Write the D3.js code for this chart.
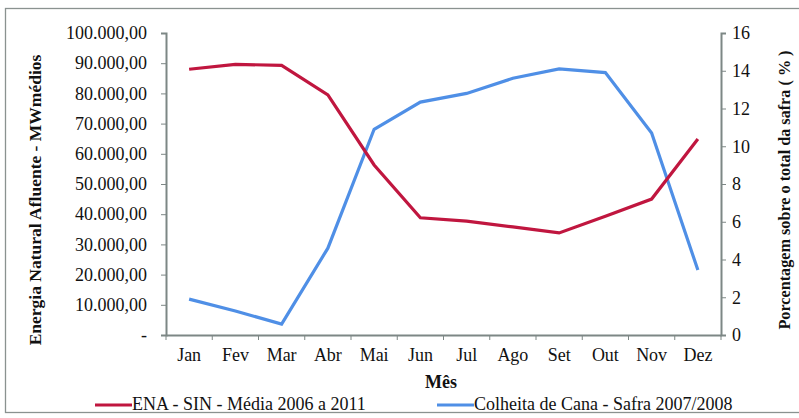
<!DOCTYPE html>
<html>
<head>
<meta charset="utf-8">
<script src="https://cdn.jsdelivr.net/npm/d3@7"></script>
<style>
  body { margin: 0; background: #fff; }
  text { font-family: "Liberation Serif", "DejaVu Serif", serif; fill: #111; }
</style>
</head>
<body>
<div id="chart"></div>
<script>
const months = ["Jan", "Fev", "Mar", "Abr", "Mai", "Jun", "Jul", "Ago", "Set", "Out", "Nov", "Dez"];
const enaValues = [88000, 89600, 89300, 79500, 56300, 38800, 37700, 35800, 33800, 39300, 45000, 64900];
const canaValues = [1.9, 1.27, 0.58, 4.6, 10.9, 12.34, 12.8, 13.6, 14.1, 13.9, 10.7, 3.44];
const leftTicks = [0, 10000, 20000, 30000, 40000, 50000, 60000, 70000, 80000, 90000, 100000];
const rightTicks = [0, 2, 4, 6, 8, 10, 12, 14, 16];

const width = 799;
const height = 418;
const margin = { top: 33, right: 78, bottom: 83, left: 166 };

const svg = d3.select("#chart")
  .append("svg")
  .attr("width", width)
  .attr("height", height);

// moldura externa
svg.append("rect")
  .attr("x", 5.5).attr("y", 8.5)
  .attr("width", 800).attr("height", 404)
  .attr("fill", "none")
  .attr("stroke", "#8a9290")
  .attr("stroke-width", 1.3);

const x = d3.scaleBand()
  .domain(months)
  .range([margin.left, width - margin.right]);

const yLeft = d3.scaleLinear()
  .domain([0, 100000])
  .range([height - margin.bottom, margin.top]);

const yRight = d3.scaleLinear()
  .domain([0, 16])
  .range([height - margin.bottom, margin.top]);

const ptBR = d3.formatLocale({ decimal: ",", thousands: ".", grouping: [3], currency: ["R$", ""] });
const fmt = ptBR.format(",.2f");

const axisColor = "#7d8785";

// eixo esquerdo
const gL = svg.append("g")
  .attr("transform", `translate(${margin.left},0)`)
  .call(d3.axisLeft(yLeft).tickValues(leftTicks).tickSize(5).tickPadding(14)
    .tickFormat(d => d === 0 ? "-" : fmt(d)));

// eixo direito
const gR = svg.append("g")
  .attr("transform", `translate(${width - margin.right},0)`)
  .call(d3.axisRight(yRight).tickValues(rightTicks).tickSize(5).tickPadding(6));

// eixo x com marcas entre categorias
const gX = svg.append("g")
  .attr("transform", `translate(0,${height - margin.bottom})`)
  .call(d3.axisBottom(x).tickSize(0).tickPadding(13));

gX.selectAll(".sep")
  .data(d3.range(months.length + 1))
  .enter()
  .append("line")
  .attr("x1", i => margin.left + i * x.step())
  .attr("x2", i => margin.left + i * x.step())
  .attr("y1", 0).attr("y2", 5)
  .attr("stroke", axisColor);

[gL, gR, gX].forEach(g => {
  g.select(".domain").attr("stroke", axisColor).attr("stroke-width", 2);
  g.selectAll(".tick line").attr("stroke", axisColor);
  g.selectAll("text")
    .style("font-family", "'Liberation Serif', serif")
    .style("font-size", "18px")
    .attr("fill", "#111");
});

const cx = d => x(d) + x.bandwidth() / 2;

svg.append("path")
  .datum(canaValues)
  .attr("fill", "none")
  .attr("stroke", "#4f8fe6")
  .attr("stroke-width", 3.2)
  .attr("d", d3.line().x((d, i) => cx(months[i])).y(d => yRight(d)));

svg.append("path")
  .datum(enaValues)
  .attr("fill", "none")
  .attr("stroke", "#c0163f")
  .attr("stroke-width", 3.2)
  .attr("d", d3.line().x((d, i) => cx(months[i])).y(d => yLeft(d)));

// titulos dos eixos
svg.append("text")
  .attr("transform", "translate(41,200) rotate(-90)")
  .attr("text-anchor", "middle")
  .style("font-size", "17.5px")
  .style("font-weight", "bold")
  .text("Energia Natural Afluente - MWmédios");

svg.append("text")
  .attr("transform", "translate(790,190) rotate(-90)")
  .attr("text-anchor", "middle")
  .style("font-size", "16.2px")
  .style("font-weight", "bold")
  .text("Porcentagem sobre o total da safra ( % )");

svg.append("text")
  .attr("x", 441).attr("y", 388)
  .attr("text-anchor", "middle")
  .style("font-size", "18px")
  .style("font-weight", "bold")
  .text("Mês");

// legenda
const legend = [
  { label: "ENA - SIN - Média 2006 a 2011", color: "#c0163f", x: 95 },
  { label: "Colheita de Cana - Safra 2007/2008", color: "#4f8fe6", x: 437 }
];
const lg = svg.selectAll(".leg").data(legend).enter().append("g");
lg.append("line")
  .attr("x1", d => d.x).attr("x2", d => d.x + 37)
  .attr("y1", 405).attr("y2", 405)
  .attr("stroke", d => d.color).attr("stroke-width", 3.2);
lg.append("text")
  .attr("x", d => d.x + 37).attr("y", 410)
  .style("font-size", "18px")
  .text(d => d.label);
</script>
</body>
</html>
